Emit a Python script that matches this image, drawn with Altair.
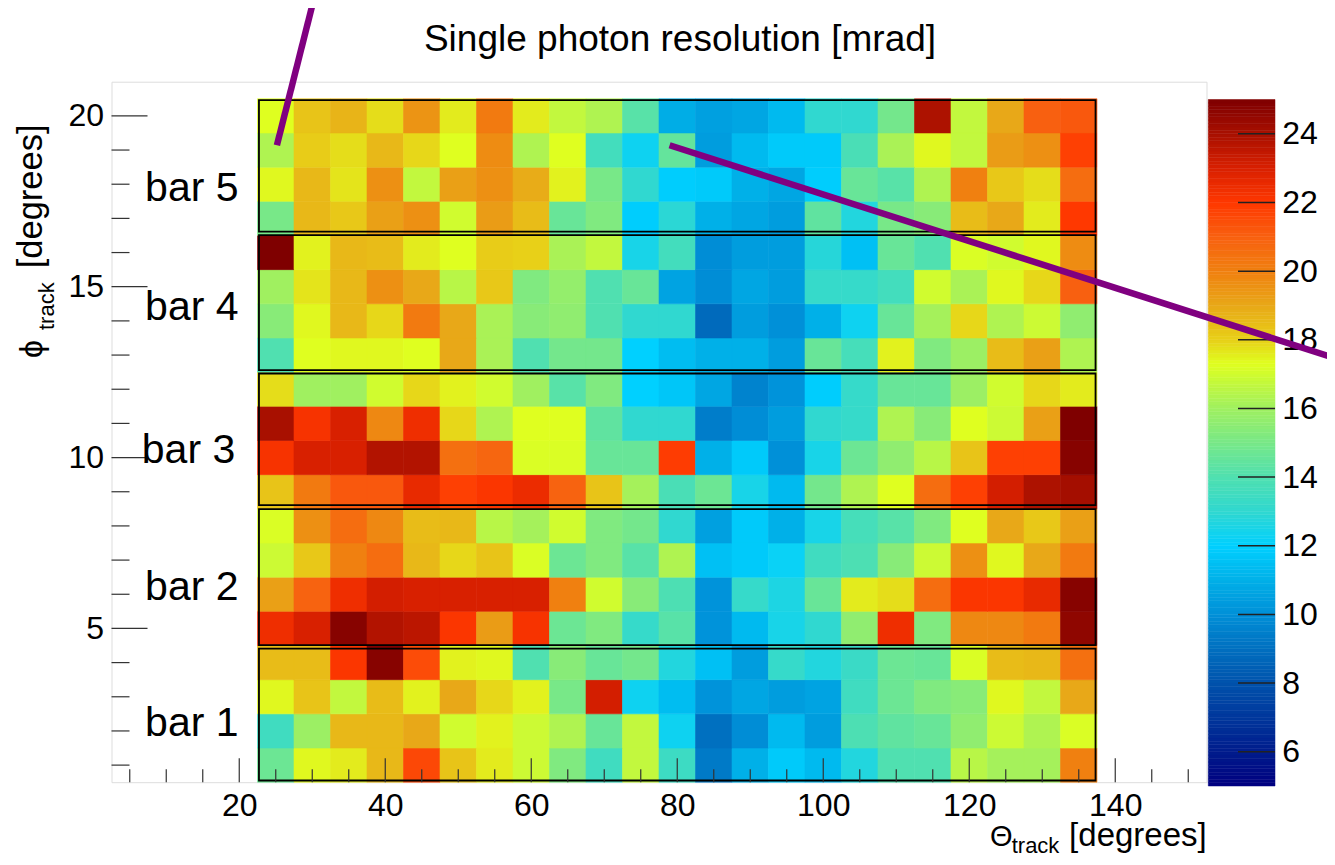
import altair as alt
import pandas as pd

FONT = "Liberation Sans"

# ---------------- data ----------------
theta_centers = [25 + 5 * c for c in range(23)]   # Theta_track bin centres [deg]
theta_bin_width = 5
phi_bin_height = 1

# single photon resolution [mrad], rows phi = 1 (bottom) ... 20 (top)
phi_01 = [14.7, 17.4, 17.6, 18.6, 21.6, 18.3, 17.6, 16.9, 15.2, 13.5, 16.7, 13.4, 9.3, 11.0, 11.8, 11.3, 12.7, 14.0, 14.0, 16.5, 16.1, 16.1, 20.0]
phi_02 = [13.5, 15.9, 18.6, 18.6, 19.0, 17.0, 17.5, 16.9, 16.3, 14.6, 16.7, 12.3, 9.0, 9.9, 11.3, 10.4, 13.9, 14.4, 14.6, 15.6, 16.9, 16.3, 17.2]
phi_03 = [17.4, 18.3, 16.7, 18.5, 17.5, 19.0, 17.9, 17.5, 15.0, 23.1, 12.3, 11.4, 10.1, 10.7, 10.4, 10.6, 13.5, 14.7, 15.2, 15.4, 17.4, 16.7, 19.0]
phi_04 = [18.5, 18.5, 22.1, 24.8, 21.5, 17.5, 17.4, 14.0, 15.4, 14.6, 14.9, 12.7, 11.5, 10.4, 13.2, 12.7, 13.3, 14.7, 14.6, 17.2, 18.5, 18.6, 20.5]
phi_05 = [22.4, 23.0, 24.8, 23.8, 23.6, 22.1, 19.3, 22.2, 14.7, 15.2, 13.2, 14.2, 10.1, 11.3, 12.5, 13.0, 15.6, 22.4, 15.2, 19.8, 19.8, 20.2, 24.6]
phi_06 = [19.2, 20.9, 22.4, 23.1, 23.0, 23.0, 23.0, 23.0, 20.0, 17.0, 15.4, 13.9, 10.1, 13.2, 12.6, 14.6, 17.6, 17.8, 20.6, 22.1, 22.1, 22.6, 24.8]
phi_07 = [16.9, 18.2, 20.0, 20.6, 18.6, 17.9, 18.3, 17.2, 14.7, 15.2, 14.2, 16.3, 11.5, 11.8, 12.2, 13.5, 13.9, 15.4, 16.9, 19.6, 17.4, 19.0, 20.2]
phi_08 = [17.2, 19.6, 20.6, 19.8, 18.5, 18.6, 16.5, 16.1, 17.0, 15.2, 14.9, 13.0, 10.5, 11.8, 11.0, 12.5, 13.7, 14.2, 15.2, 17.3, 19.0, 18.2, 19.2]
phi_09 = [18.3, 20.2, 21.2, 21.2, 22.6, 21.8, 22.1, 22.5, 20.9, 18.3, 16.1, 13.8, 14.7, 12.5, 11.3, 14.9, 16.3, 17.3, 20.6, 21.8, 23.1, 23.9, 24.1]
phi_10 = [22.2, 23.0, 23.0, 23.8, 23.8, 20.5, 20.8, 17.2, 17.2, 14.6, 14.6, 21.9, 11.0, 11.8, 10.0, 12.5, 14.7, 15.6, 16.5, 18.3, 21.8, 21.8, 24.8]
phi_11 = [24.0, 22.2, 23.0, 19.8, 22.4, 17.9, 16.3, 17.3, 17.3, 14.4, 13.0, 13.0, 9.4, 9.9, 10.4, 13.0, 13.2, 16.3, 15.4, 17.3, 16.9, 19.2, 25.0]
phi_12 = [17.8, 16.0, 16.0, 17.0, 17.9, 17.5, 17.0, 16.0, 14.2, 15.2, 12.0, 11.7, 10.7, 9.6, 10.1, 11.9, 13.2, 14.6, 14.6, 15.9, 17.0, 17.9, 17.6]
phi_13 = [14.0, 17.3, 17.4, 17.4, 17.3, 19.0, 16.2, 14.0, 14.9, 14.9, 12.0, 11.4, 11.0, 11.0, 10.4, 14.6, 13.7, 17.5, 15.2, 15.9, 18.5, 19.2, 16.3]
phi_14 = [15.4, 17.4, 18.6, 17.9, 20.2, 19.0, 16.2, 15.4, 15.6, 14.0, 13.0, 13.0, 8.8, 10.4, 10.0, 11.0, 12.3, 14.6, 16.1, 17.9, 16.3, 16.9, 15.6]
phi_15 = [16.0, 17.7, 18.6, 19.6, 19.0, 16.5, 18.2, 15.2, 15.7, 14.0, 14.6, 10.6, 9.9, 10.7, 10.4, 13.2, 13.2, 13.6, 17.0, 16.2, 17.4, 17.9, 21.0]
phi_16 = [25.0, 17.5, 18.6, 18.5, 17.6, 17.3, 18.1, 18.0, 16.2, 16.7, 12.5, 13.6, 9.9, 10.4, 10.4, 12.8, 11.5, 14.6, 14.0, 17.2, 17.0, 17.4, 19.7]
phi_17 = [15.0, 18.6, 18.2, 19.2, 19.6, 17.0, 19.3, 18.5, 14.6, 15.2, 11.9, 12.9, 11.0, 10.7, 10.4, 14.4, 12.7, 15.0, 15.4, 18.5, 19.0, 17.6, 22.0]
phi_18 = [17.4, 18.6, 17.7, 19.6, 16.7, 19.2, 19.6, 18.9, 17.5, 15.0, 13.0, 11.9, 11.8, 11.0, 10.7, 11.9, 14.6, 14.2, 16.3, 20.0, 18.2, 17.8, 20.6]
phi_19 = [16.3, 18.1, 17.8, 18.6, 17.9, 17.3, 19.7, 16.3, 17.3, 13.6, 12.3, 14.5, 10.4, 11.3, 11.8, 11.8, 13.8, 16.2, 17.4, 16.7, 19.3, 19.6, 21.8]
phi_20 = [17.3, 18.3, 18.7, 17.8, 19.5, 17.6, 20.2, 17.6, 16.7, 16.3, 14.2, 10.9, 10.5, 10.7, 11.3, 13.0, 13.0, 14.9, 23.9, 16.7, 19.0, 21.0, 21.2]

phi_rows = [phi_01, phi_02, phi_03, phi_04, phi_05, phi_06, phi_07, phi_08, phi_09, phi_10,
            phi_11, phi_12, phi_13, phi_14, phi_15, phi_16, phi_17, phi_18, phi_19, phi_20]

# bar outlines (phi ranges) and labels
bar_names = ["bar 1", "bar 2", "bar 3", "bar 4", "bar 5"]
bar_bottom = [0.55, 4.51, 8.61, 12.56, 16.61]
bar_top = [4.41, 8.49, 12.46, 16.51, 20.46]
bar_left = 22.7
bar_right = 137.3
bar_label_x = [7.1, 7.1, 6.65, 7.1, 7.1]
bar_label_y = [1.85, 5.83, 9.85, 14.04, 17.51]

# purple annotation lines (data coordinates)
line_x1 = [30.2, 78.95]
line_y1 = [23.4, 19.14]
line_x2 = [25.16, 170.1]
line_y2 = [19.14, 12.91]

# axis ticks
x_labels = [20, 40, 60, 80, 100, 120, 140]
x_minor = [t for t in range(5, 155, 5) if t not in x_labels]
y_labels = [5, 10, 15, 20]
y_minor = [t for t in range(1, 21) if t not in y_labels]
z_labels = [6, 8, 10, 12, 14, 16, 18, 20, 22, 24]

# colour palette (value stops -> colours)
z_stops = [5, 6, 7, 8, 9, 10, 11, 12, 13, 14, 15, 16, 17.3, 18, 19, 20, 21, 22, 23, 24, 25]
z_colors = ["#000080", "#001c8c", "#00379c", "#0052ac", "#0070c0", "#0090d8", "#00b0e8",
            "#00d0ff", "#30d8d0", "#50e0b0", "#78e888", "#a0f060", "#dfff20", "#e8d018",
            "#e8a818", "#f08010", "#f86010", "#ff3800", "#d82000", "#a81000", "#7f0000"]
cb_levels = [round(5 + 0.1 * i, 2) for i in range(200)]

# ---------------- tables ----------------
cells = []
for i, row in enumerate(phi_rows):
    phi = i + 1
    for th, v in zip(theta_centers, row):
        cells.append({"x0": th - theta_bin_width / 2, "x1": th + theta_bin_width / 2,
                      "y0": phi - phi_bin_height / 2, "y1": phi + phi_bin_height / 2, "v": v})
cells = pd.DataFrame(cells)
boxes = pd.DataFrame({"b": bar_bottom, "t": bar_top, "l": [bar_left] * 5, "r": [bar_right] * 5})
labels = pd.DataFrame({"name": bar_names, "x": bar_label_x, "y": bar_label_y})
lines = pd.DataFrame({"x": line_x1, "y": line_y1, "x2": line_x2, "y2": line_y2})
cbar = pd.DataFrame({"lo": cb_levels, "hi": [round(l + 0.1, 2) for l in cb_levels],
                     "mid": [round(l + 0.05, 3) for l in cb_levels]})
cticks = pd.DataFrame({"z": z_labels})
one = pd.DataFrame({"a": [0]})

W, H = 1095, 700.5

xscale = alt.Scale(domain=[2.5, 152.5], nice=False, zero=False)
yscale = alt.Scale(domain=[0.5, 21], nice=False, zero=False)
cscale = alt.Scale(domain=z_stops, range=z_colors, interpolate="rgb", clamp=True)
zscale = alt.Scale(domain=[5, 25], range=[704.3, 17.8], nice=False, zero=False)

xaxis = alt.Axis(values=x_labels, title=None, labelFontSize=32, labelFont=FONT, labelColor="black",
                 ticks=False, tickSize=0, domain=False, grid=False, labelPadding=8,
                 labelOverlap=False, labelFlush=False, format="d")
yaxis = alt.Axis(values=y_labels, title=None, labelFontSize=32, labelFont=FONT, labelColor="black",
                 ticks=False, tickSize=0, domain=False, grid=False, labelPadding=8,
                 labelOverlap=False, labelFlush=False, format="d")

heat = alt.Chart(cells).mark_rect(strokeWidth=0.6).encode(
    x=alt.X("x0:Q", scale=xscale, axis=xaxis), x2="x1:Q",
    y=alt.Y("y0:Q", scale=yscale, axis=yaxis), y2="y1:Q",
    color=alt.Color("v:Q", scale=cscale, legend=None),
    stroke=alt.Stroke("v:Q", scale=cscale, legend=None),
)
box = alt.Chart(boxes).mark_rect(filled=False, stroke="black", strokeWidth=1.8).encode(
    x=alt.X("l:Q", scale=xscale, axis=xaxis), x2="r:Q",
    y=alt.Y("b:Q", scale=yscale, axis=yaxis), y2="t:Q",
)
tick_col = "#333333"
xt_major = alt.Chart(pd.DataFrame({"t": x_labels})).mark_rule(color=tick_col, strokeWidth=1.2).encode(
    x=alt.X("t:Q", scale=xscale, axis=xaxis), y=alt.value(H), y2=alt.value(H - 24))
xt_minor = alt.Chart(pd.DataFrame({"t": x_minor})).mark_rule(color=tick_col, strokeWidth=1.2).encode(
    x=alt.X("t:Q", scale=xscale, axis=xaxis), y=alt.value(H), y2=alt.value(H - 13))
yt_major = alt.Chart(pd.DataFrame({"t": y_labels})).mark_rule(color=tick_col, strokeWidth=1.2).encode(
    y=alt.Y("t:Q", scale=yscale, axis=yaxis), x=alt.value(0), x2=alt.value(36))
yt_minor = alt.Chart(pd.DataFrame({"t": y_minor})).mark_rule(color=tick_col, strokeWidth=1.2).encode(
    y=alt.Y("t:Q", scale=yscale, axis=yaxis), x=alt.value(0), x2=alt.value(18))

below = alt.layer(heat, box, xt_major, xt_minor, yt_major, yt_minor)

# colour bar
cb_rect = alt.Chart(cbar).mark_rect(strokeWidth=0.5).encode(
    y=alt.Y("lo:Q", scale=zscale,
            axis=alt.Axis(orient="right", offset=68.5, values=z_labels, title=None,
                          labelFontSize=32, labelFont=FONT, labelColor="black", ticks=False,
                          tickSize=0, domain=False, grid=False, labelPadding=6.7,
                          labelOverlap=False, labelFlush=False, format="d")),
    y2="hi:Q",
    x=alt.value(1096.8), x2=alt.value(1163.5),
    color=alt.Color("mid:Q", scale=cscale, legend=None),
    stroke=alt.Stroke("mid:Q", scale=cscale, legend=None),
)
cb_tick = alt.Chart(cticks).mark_rule(color="#222222", strokeWidth=1.5).encode(
    y=alt.Y("z:Q", scale=zscale), x=alt.value(1126.5), x2=alt.value(1163.5))
colorbar = alt.layer(cb_rect, cb_tick)

# annotations on top
yscale_top = alt.Scale(domain=[0.5, 21], nice=False, zero=False)
purple = alt.Chart(lines).mark_rule(color="#800080", strokeWidth=6.5, strokeCap="butt").encode(
    x=alt.X("x:Q", scale=xscale, axis=xaxis), x2="x2:Q",
    y=alt.Y("y:Q", scale=yscale_top, axis=None), y2="y2:Q")
barlab = alt.Chart(labels).mark_text(align="left", baseline="alphabetic", fontSize=41,
                                     font=FONT, color="black").encode(
    x=alt.X("x:Q", scale=xscale, axis=xaxis),
    y=alt.Y("y:Q", scale=yscale_top, axis=None), text="name:N")


def txt(s, x, y, size, angle=0, align="left"):
    return alt.Chart(one).mark_text(text=s, fontSize=size, font=FONT, color="black",
                                    align=align, baseline="alphabetic", angle=angle).encode(
        x=alt.value(x), y=alt.value(y))


texts = [
    txt("Single photon resolution [mrad]", 568.5, -30.4, 37, align="center"),
    txt("[degrees]", 1095.2, 764.5, 33, align="right"),
    txt("Θ", 878.5, 764.5, 29),
    txt("track", 900.2, 771.0, 22),
    txt("[degrees]", -69.9, 186.6, 34.5, angle=270),
    txt("track", -57.9, 248.3, 22, angle=270),
    txt("ϕ", -69.9, 276.3, 32, angle=270),
]
above = alt.layer(purple, barlab, *texts)

chart = alt.layer(below, colorbar, above).resolve_scale(y="independent").properties(
    width=W, height=H,
    autosize=alt.AutoSizeParams(type="none"),
    padding={"left": 103.5, "top": 73.7, "right": 120.5, "bottom": 74.8},
    background="white",
).configure_view(stroke="#555555", strokeWidth=1.2).configure(font=FONT)

chart.save("out.html", embed_options={"renderer": "svg", "actions": False})
